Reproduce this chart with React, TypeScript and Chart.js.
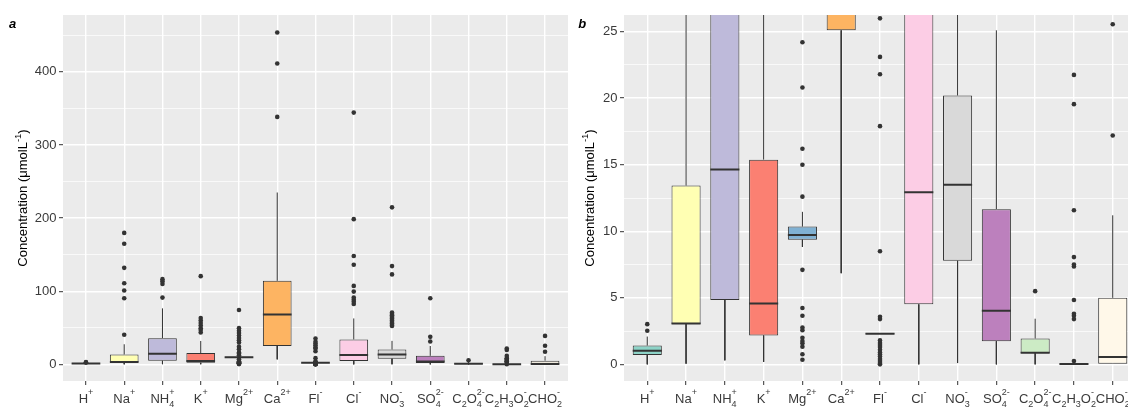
import React, { useEffect, useRef } from "react";
import { Chart, registerables } from "chart.js";

Chart.register(...registerables);

// ---------------- data ----------------
const ions = [
  "H^{+}", "Na^{+}", "NH_{4}^{+}", "K^{+}", "Mg^{2+}", "Ca^{2+}", "Fl^{-}",
  "Cl^{-}", "NO_{3}^{-}", "SO_{4}^{2-}", "C_{2}O_{4}^{2-}", "C_{2}H_{3}O_{2}^{-}", "CHO_{2}^{-}",
];
const q1 = [0.7, 3.03, 4.84, 2.17, 9.37, 25.1, 2.28, 4.51, 7.78, 1.74, 0.85, 0, 0];
const medians = [1.03, 3.07, 14.65, 4.58, 9.72, 68.3, 2.3, 12.93, 13.5, 4.03, 0.88, 0.02, 0.55];
const q3 = [1.41, 13.43, 35.8, 15.38, 10.35, 114.2, 2.33, 34.0, 20.2, 11.66, 1.94, 0.05, 5.0];
const whiskerLow = [0, 0.05, 0.3, 0.18, 8.82, 6.85, 2.28, 0, 0.1, 0, 0, 0, 0];
const whiskerHigh = [2.09, 27.5, 76.6, 32.0, 11.46, 235, 2.33, 62.8, 32.1, 25.1, 3.43, 0.05, 11.2];
const outliers = [
  [2.52, 3.02],
  [40.4, 90.4, 101, 111, 132, 165, 179.8],
  [91.3, 110, 113.8, 116.5],
  [43.6, 47, 49.5, 53, 56.4, 60, 63.3, 120.6],
  [0.35, 0.76, 1.33, 1.59, 1.76, 2.0, 2.57, 2.77, 3.65, 4.23, 7.1, 12.6, 15.0, 16.2, 20.8, 24.2,
    29.8, 33, 36.2, 39.5, 43, 46, 49.5, 74.3],
  [338.4, 411.4, 453.8],
  [0, 0.1, 0.25, 0.4, 0.6, 0.75, 0.9, 1.1, 1.3, 1.45, 1.6, 1.8, 3.4, 3.58, 8.5, 17.9, 21.8, 23.1,
    26, 28.4, 31, 35.3],
  [82.6, 85.5, 88.5, 91.3, 99.5, 107.3, 136.2, 148.2, 198.6, 344.3],
  [52.5, 54, 56, 58, 60, 62, 63.5, 65, 67, 69, 71, 123, 134.4, 214.7],
  [31.2, 37.6, 90.4],
  [5.5],
  [0.25, 3.4, 3.65, 3.8, 4.84, 7.35, 7.5, 8.06, 11.58, 19.55, 21.75],
  [17.2, 25.55, 38.9],
];

const yMajorA = [0, 100, 200, 300, 400];
const yMinorA = [50, 150, 250, 350, 450];
const yLimitsA = [-22.75, 477.75];
const yMajorB = [0, 5, 10, 15, 20, 25];
const yMinorB = [2.5, 7.5, 12.5, 17.5, 22.5];
const yLimitsB = [-1.25, 26.25];
const yTitle = "Concentration (\u03BCmolL^{-1})";

// ---------------- styles ----------------
const fills = [
  "#8DD3C7", "#FFFFB3", "#BEBADA", "#FB8072", "#80B1D3", "#FDB462", "#B3DE69",
  "#FCCDE5", "#D9D9D9", "#BC80BD", "#CCEBC5", "#FFED6F", "#FFF8E9",
];
const FONT = '"Liberation Sans", Arial, Helvetica, sans-serif';
const INK = "#333333";
const AXIS_TEXT = "#3A3A3A";

type Seg = { base: string; sub: string; sup: string };

function parseRich(s: string): Seg[] {
  const segs: Seg[] = [];
  const re = /([^_^]*)(?:_\{([^}]*)\})?(?:\^\{([^}]*)\})?/g;
  let m: RegExpExecArray | null;
  while ((m = re.exec(s)) !== null) {
    if (m[0] === "") break;
    segs.push({ base: m[1] || "", sub: m[2] || "", sup: m[3] || "" });
  }
  return segs;
}

type RichFont = { base: string; script: string; raise: number; drop: number };

function richWidth(ctx: CanvasRenderingContext2D, segs: Seg[], f: RichFont) {
  let w = 0;
  for (const s of segs) {
    ctx.font = f.base;
    w += ctx.measureText(s.base).width;
    ctx.font = f.script;
    w += Math.max(ctx.measureText(s.sub).width, ctx.measureText(s.sup).width);
  }
  return w;
}

function drawRich(ctx: CanvasRenderingContext2D, segs: Seg[], x: number, y: number, f: RichFont) {
  let cx = x;
  for (const s of segs) {
    ctx.font = f.base;
    ctx.fillText(s.base, cx, y);
    cx += ctx.measureText(s.base).width;
    ctx.font = f.script;
    if (s.sub) ctx.fillText(s.sub, cx, y + f.drop);
    if (s.sup) ctx.fillText(s.sup, cx, y - f.raise);
    cx += Math.max(ctx.measureText(s.sub).width, ctx.measureText(s.sup).width);
  }
}

const labelFont: RichFont = { base: `13px ${FONT}`, script: `9px ${FONT}`, raise: 8.5, drop: 3.5 };
const titleFont: RichFont = { base: `13px ${FONT}`, script: `9.5px ${FONT}`, raise: 6, drop: 3 };

type PanelCfg = {
  tag: string;
  tagX: number;
  yMajor: number[];
  yMinor: number[];
  yLimits: number[];
  yAxisWidth: number;
  padRight: number;
  titleOffset: number;
};

function makePanelPlugin(cfg: PanelCfg) {
  return {
    id: "panelDecor" + cfg.tag,
    beforeDraw(chart: any) {
      const { ctx, chartArea } = chart;
      ctx.save();
      ctx.fillStyle = "#EBEBEB";
      ctx.fillRect(chartArea.left, chartArea.top, chartArea.right - chartArea.left, chartArea.bottom - chartArea.top);
      ctx.restore();
    },
    afterDraw(chart: any) {
      const { ctx, chartArea, scales } = chart;
      ctx.save();
      ctx.textAlign = "left";
      ctx.textBaseline = "alphabetic";
      ctx.fillStyle = AXIS_TEXT;
      ions.forEach((lab, i) => {
        const segs = parseRich(lab);
        const w = richWidth(ctx, segs, labelFont);
        const px = scales.x.getPixelForValue(i + 1);
        drawRich(ctx, segs, px - w / 2, chartArea.bottom + 22.3, labelFont);
      });
      // y axis title
      ctx.fillStyle = "#000000";
      const tSegs = parseRich(yTitle);
      const tw = richWidth(ctx, tSegs, titleFont);
      ctx.translate(chartArea.left - cfg.titleOffset, (chartArea.top + chartArea.bottom) / 2);
      ctx.rotate(-Math.PI / 2);
      drawRich(ctx, tSegs, -tw / 2, 0, titleFont);
      ctx.restore();
      // panel tag
      ctx.save();
      ctx.fillStyle = "#000000";
      ctx.font = `italic bold 13px ${FONT}`;
      ctx.textBaseline = "alphabetic";
      ctx.fillText(cfg.tag, cfg.tagX, 28.3);
      ctx.restore();
    },
  };
}

function buildConfig(cfg: PanelCfg) {
  const xs = ions.map((_, i) => i + 1);
  const boxPts = xs.map((x, i) => ({ x, y: [q1[i], q3[i]] }));
  const medianPts: any[] = [];
  const whiskerPts: any[] = [];
  xs.forEach((x, i) => {
    medianPts.push({ x: x - 0.375, y: medians[i] }, { x: x + 0.375, y: medians[i] }, { x: x + 0.375, y: null });
    whiskerPts.push(
      { x, y: q3[i] }, { x, y: whiskerHigh[i] }, { x, y: null },
      { x, y: q1[i] }, { x, y: whiskerLow[i] }, { x, y: null },
    );
  });
  const outlierPts = outliers.flatMap((arr, i) => arr.map((v) => ({ x: i + 1, y: v })));
  const majorSet = new Set(cfg.yMajor);
  const allY = [...cfg.yMajor, ...cfg.yMinor].sort((a, b) => a - b);

  return {
    type: "bar",
    data: {
      datasets: [
        {
          type: "scatter", data: outlierPts, backgroundColor: INK, borderColor: INK, borderWidth: 0,
          pointRadius: 2.3, pointHoverRadius: 2.3, order: 0,
        },
        {
          type: "line", data: medianPts, borderColor: INK, borderWidth: 2, pointRadius: 0,
          spanGaps: false, fill: false, borderCapStyle: "butt", order: 1,
        },
        {
          type: "bar", data: boxPts, backgroundColor: fills, borderColor: INK, borderWidth: 1,
          borderSkipped: false, barPercentage: 0.75, categoryPercentage: 1, grouped: false, order: 2,
        },
        {
          type: "line", data: whiskerPts, borderColor: INK, borderWidth: 1, pointRadius: 0,
          spanGaps: false, fill: false, order: 3,
        },
      ],
    },
    options: {
      animation: false,
      responsive: false,
      devicePixelRatio: 1,
      events: [],
      layout: { padding: { left: 0, top: 15, right: cfg.padRight, bottom: 0 } },
      plugins: { legend: { display: false }, tooltip: { enabled: false }, title: { display: false } },
      scales: {
        x: {
          type: "linear",
          offset: false,
          min: 0.4,
          max: 13.6,
          afterBuildTicks: (scale: any) => { scale.ticks = xs.map((v) => ({ value: v })); },
          afterFit: (scale: any) => { scale.height = 27; },
          ticks: { display: false },
          grid: { offset: false, color: "#FFFFFF", lineWidth: 1.4, tickColor: INK, tickLength: 4, tickWidth: 1, drawTicks: true },
          border: { display: false },
        },
        y: {
          type: "linear",
          min: cfg.yLimits[0],
          max: cfg.yLimits[1],
          afterBuildTicks: (scale: any) => { scale.ticks = allY.map((v) => ({ value: v })); },
          afterFit: (scale: any) => { scale.width = cfg.yAxisWidth; },
          ticks: {
            autoSkip: false,
            padding: 2.5,
            color: AXIS_TEXT,
            font: { family: FONT, size: 13 },
            callback: (v: any) => (majorSet.has(Number(v)) ? String(v) : ""),
          },
          grid: {
            color: "#FFFFFF",
            lineWidth: (c: any) => (majorSet.has(c.tick?.value) ? 1.4 : 0.7),
            tickColor: (c: any) => (majorSet.has(c.tick?.value) ? INK : "rgba(0,0,0,0)"),
            tickLength: 4,
            tickWidth: 1,
          },
          border: { display: false },
        },
      },
    },
    plugins: [makePanelPlugin(cfg)],
  };
}

const panelA: PanelCfg = {
  tag: "a", tagX: 9, yMajor: yMajorA, yMinor: yMinorA, yLimits: yLimitsA,
  yAxisWidth: 63, padRight: 7, titleOffset: 36.3,
};
const panelB: PanelCfg = {
  tag: "b", tagX: 3.3, yMajor: yMajorB, yMinor: yMinorB, yLimits: yLimitsB,
  yAxisWidth: 49, padRight: 14, titleOffset: 29.6,
};

export default function App() {
  const refA = useRef<HTMLCanvasElement | null>(null);
  const refB = useRef<HTMLCanvasElement | null>(null);

  useEffect(() => {
    const charts: Chart[] = [];
    if (refA.current) charts.push(new Chart(refA.current, buildConfig(panelA) as any));
    if (refB.current) charts.push(new Chart(refB.current, buildConfig(panelB) as any));
    return () => charts.forEach((c) => c.destroy());
  }, []);

  return (
    <div style={{ position: "absolute", left: 0, top: 0, width: 1128, height: 408, overflow: "hidden", background: "#FFFFFF" }}>
      <canvas ref={refA} width={575} height={408} style={{ position: "absolute", left: 0, top: 0 }} />
      <canvas ref={refB} width={575} height={408} style={{ position: "absolute", left: 575, top: 0 }} />
    </div>
  );
}
